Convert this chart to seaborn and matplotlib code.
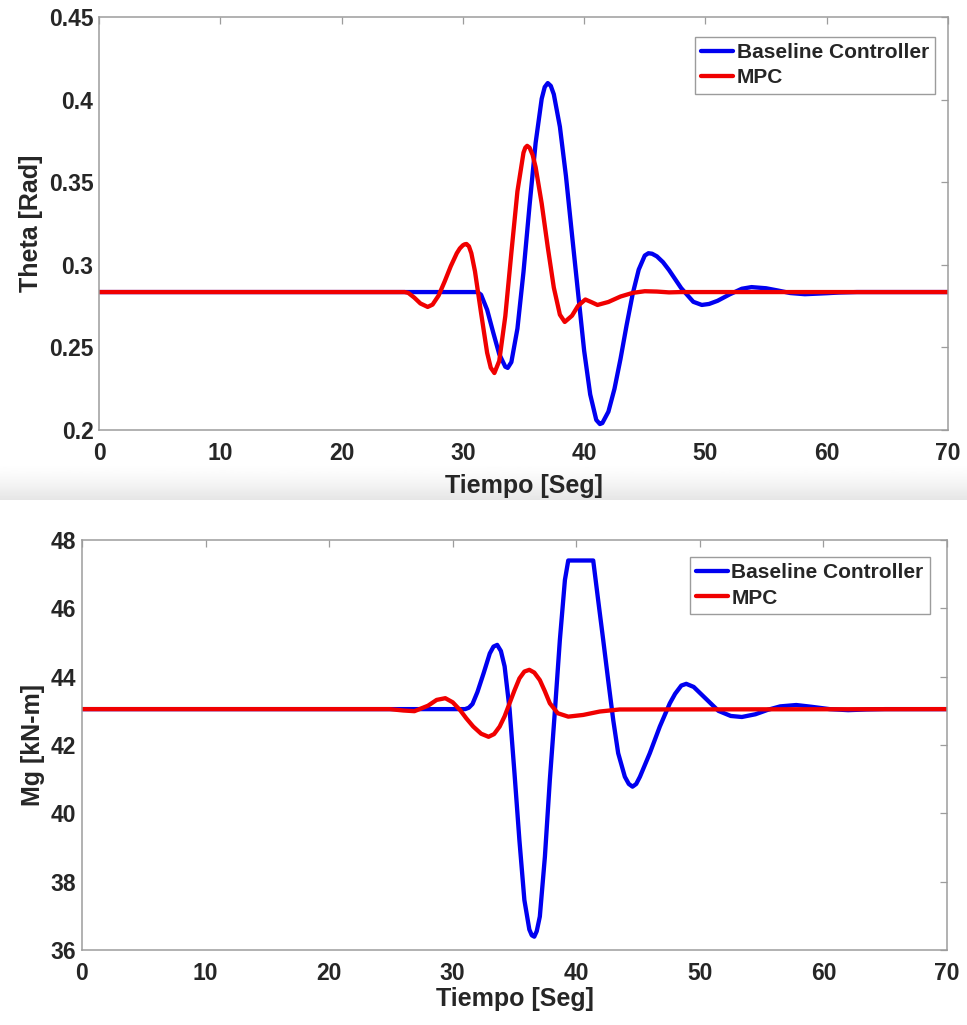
import numpy as np
import pandas as pd
import matplotlib
matplotlib.use("Agg")
import matplotlib.pyplot as plt
import seaborn as sns

# ---------------- data ----------------
series_names = ["Baseline Controller", "MPC"]

theta_base_t = [0, 31.2, 31.5, 32.0, 32.5, 33.0, 33.5, 33.7, 34.0, 34.5, 35.0, 35.5, 36.0,
                36.5, 36.75, 37.0, 37.25, 37.5, 38.0, 38.5, 39.0, 39.5, 40.0, 40.5, 41.0,
                41.3, 41.5, 42.0, 42.5, 43.0, 43.5, 44.0, 44.5, 45.0, 45.3, 45.6, 46, 46.5,
                47, 48, 49, 49.7, 50.3, 51, 52, 53, 53.8, 55, 56, 57, 58.2, 60, 61, 62.5, 70]
theta_base_v = [0.2835, 0.2835, 0.2819, 0.2728, 0.2591, 0.2459, 0.2383, 0.2376, 0.2411,
                0.2614, 0.2957, 0.3360, 0.3738, 0.4005, 0.4076, 0.4100, 0.4083, 0.4032,
                0.3836, 0.3537, 0.3181, 0.2830, 0.2480, 0.2215, 0.2061, 0.2036, 0.2042,
                0.2111, 0.2249, 0.2431, 0.2634, 0.2823, 0.2971, 0.3056, 0.3070, 0.3067,
                0.3051, 0.3016, 0.2968, 0.2859, 0.2776, 0.2757, 0.2763, 0.2782, 0.2821,
                0.2855, 0.2865, 0.2858, 0.2844, 0.2829, 0.2822, 0.2828, 0.2832, 0.2835,
                0.2835]

theta_mpc_t = [0, 25.2, 25.5, 26.0, 26.5, 27.1, 27.5, 28.0, 28.5, 29.0, 29.5, 29.75, 30.0,
               30.15, 30.3, 30.5, 30.7, 31.0, 31.5, 32.0, 32.3, 32.6, 33.0, 33.5, 34.0,
               34.5, 35.0, 35.15, 35.3, 35.5, 35.75, 36.0, 36.5, 37.0, 37.5, 38.0, 38.4,
               39.0, 39.5, 40.1, 40.6, 41.1, 42, 43, 44, 45, 46, 47, 48, 70]
theta_mpc_v = [0.2835, 0.2835, 0.2830, 0.2801, 0.2766, 0.2745, 0.2759, 0.2814, 0.2899,
               0.2991, 0.3070, 0.3099, 0.3118, 0.3124, 0.3126, 0.3112, 0.3070, 0.2960,
               0.2709, 0.2468, 0.2377, 0.2345, 0.2418, 0.2689, 0.3074, 0.3445, 0.3679,
               0.3709, 0.3720, 0.3709, 0.3666, 0.3591, 0.3371, 0.3107, 0.2862, 0.2698,
               0.2654, 0.2692, 0.2752, 0.2790, 0.2774, 0.2757, 0.2775, 0.2808, 0.2830,
               0.2840, 0.2838, 0.2833, 0.2835, 0.2835]

mg_base_t = [0, 31.0, 31.3, 31.6, 32.0, 32.5, 33.0, 33.3, 33.6, 33.9, 34.2, 34.6, 35.0,
             35.4, 35.8, 36.2, 36.4, 36.6, 36.8, 37.05, 37.46, 37.86, 38.27, 38.67, 39.08,
             39.35, 41.37, 41.77, 42.18, 42.58, 42.99, 43.39, 43.93, 44.25, 44.55, 44.85,
             45.15, 45.95, 46.76, 47.57, 48.0, 48.5, 48.9, 49.5, 50.5, 51.5, 52.5, 53.4,
             54.5, 55.5, 56.5, 57.8, 59.0, 60.5, 62.0, 63.5, 65, 70]
mg_base_v = [43.05, 43.05, 43.09, 43.2, 43.55, 44.1, 44.68, 44.88, 44.93, 44.75, 44.3,
             43.05, 41.17, 39.2, 37.46, 36.6, 36.43, 36.39, 36.55, 36.98, 38.73, 40.98,
             43.0, 45.07, 46.83, 47.4, 47.4, 46.24, 45.07, 43.9, 42.73, 41.76, 41.07,
             40.86, 40.78, 40.86, 41.07, 41.76, 42.54, 43.22, 43.5, 43.74, 43.79, 43.7,
             43.35, 43.0, 42.85, 42.82, 42.9, 43.03, 43.13, 43.17, 43.12, 43.05, 43.02,
             43.04, 43.05, 43.05]

mg_mpc_t = [0, 24.9, 26.0, 26.9, 28.0, 28.7, 29.4, 30.0, 30.6, 31.1, 31.66, 32.3, 32.9,
            33.35, 33.8, 34.2, 34.6, 35.0, 35.4, 35.8, 36.2, 36.6, 37.05, 37.45, 37.86,
            38.5, 39.35, 40.56, 41.9, 43.5, 70]
mg_mpc_v = [43.05, 43.05, 43.01, 42.99, 43.15, 43.32, 43.37, 43.25, 43.02, 42.78, 42.54,
            42.33, 42.24, 42.32, 42.54, 42.84, 43.22, 43.6, 43.95, 44.15, 44.2, 44.12,
            43.9, 43.58, 43.22, 42.93, 42.83, 42.88, 42.98, 43.04, 43.05]

x_ticks = [0, 10, 20, 30, 40, 50, 60, 70]
theta_ticks = [0.2, 0.25, 0.3, 0.35, 0.4, 0.45]
theta_labels = ["0.2", "0.25", "0.3", "0.35", "0.4", "0.45"]
mg_ticks = [36, 38, 40, 42, 44, 46, 48]

x_label = "Tiempo [Seg]"
theta_ylabel = "Theta [Rad]"
mg_ylabel = "Mg [kN-m]"

# ---------------- style ----------------
sns.set_style("white")
plt.rcParams["font.family"] = ["Liberation Sans", "DejaVu Sans"]
plt.rcParams["font.weight"] = "bold"

palette = {series_names[0]: "#0000f0", series_names[1]: "#f00000"}
spine_col = "#9c9c9c"
text_col = "#262626"
LW = 3.1


def make_df(t1, v1, t2, v2):
    return pd.concat([
        pd.DataFrame({"t": t1, "v": v1, "series": series_names[0]}),
        pd.DataFrame({"t": t2, "v": v2, "series": series_names[1]}),
    ], ignore_index=True)


fig = plt.figure(figsize=(9.67, 10.25), dpi=100)

# grey band separating the two panels
band = fig.add_axes([0, 1 - 500 / 1025, 1, 38 / 1025], zorder=-10)
grad = np.linspace(0, 1, 64).reshape(-1, 1)
band.imshow(1 - 0.1 * grad ** 1.5, cmap="gray", vmin=0, vmax=1, aspect="auto",
            extent=[0, 1, 0, 1], origin="upper")
band.axis("off")

ax1 = fig.add_axes([99 / 967, 1 - 430 / 1025, 849 / 967, 413 / 1025])
ax2 = fig.add_axes([82 / 967, 1 - 950 / 1025, 865 / 967, 410 / 1025])

panels = [
    (ax1, make_df(theta_base_t, theta_base_v, theta_mpc_t, theta_mpc_v), (0.2, 0.45),
     theta_ticks, theta_labels, theta_ylabel, (0.9847, 0.9516), 6),
    (ax2, make_df(mg_base_t, mg_base_v, mg_mpc_t, mg_mpc_v), (36, 48),
     mg_ticks, [str(v) for v in mg_ticks], mg_ylabel, (0.9803, 0.9585), 1),
]

for ax, df, ylim, yt, ytl, ylab, anchor, xlpad in panels:
    sns.lineplot(data=df, x="t", y="v", hue="series", palette=palette,
                 hue_order=series_names, estimator=None, sort=False,
                 linewidth=LW, ax=ax, legend=True)
    ax.set_xlim(0, 70)
    ax.set_ylim(*ylim)
    ax.set_xticks(x_ticks)
    ax.set_xticklabels([str(v) for v in x_ticks])
    ax.set_yticks(yt)
    ax.set_yticklabels(ytl)
    ax.set_xlabel(x_label, fontsize=18, fontweight="bold", color=text_col, labelpad=xlpad)
    ax.set_ylabel(ylab, fontsize=18, fontweight="bold", color=text_col, labelpad=4)
    for s in ax.spines.values():
        s.set_visible(True)
        s.set_color(spine_col)
        s.set_linewidth(1.1)
    ax.tick_params(axis="both", which="both", direction="in", length=5, width=0.9,
                   color=spine_col, top=True, right=True, labelsize=16.5,
                   labelcolor=text_col)
    ax.tick_params(axis="x", pad=9)
    ax.tick_params(axis="y", pad=4)
    for lab in ax.get_xticklabels() + ax.get_yticklabels():
        lab.set_fontweight("bold")
    handles, labels = ax.get_legend_handles_labels()
    leg = ax.legend(handles, labels, loc="upper right", bbox_to_anchor=anchor,
                    frameon=True, fancybox=False, framealpha=1, edgecolor=spine_col,
                    prop={"weight": "bold", "size": 15}, handlelength=1.55,
                    handletextpad=0.15, borderpad=0.3, labelspacing=0.3,
                    borderaxespad=0)
    leg.get_frame().set_linewidth(1.0)
    for txt in leg.get_texts():
        txt.set_color(text_col)
    for ln in leg.get_lines():
        ln.set_linewidth(LW)

fig.savefig("out.png", dpi=100)
